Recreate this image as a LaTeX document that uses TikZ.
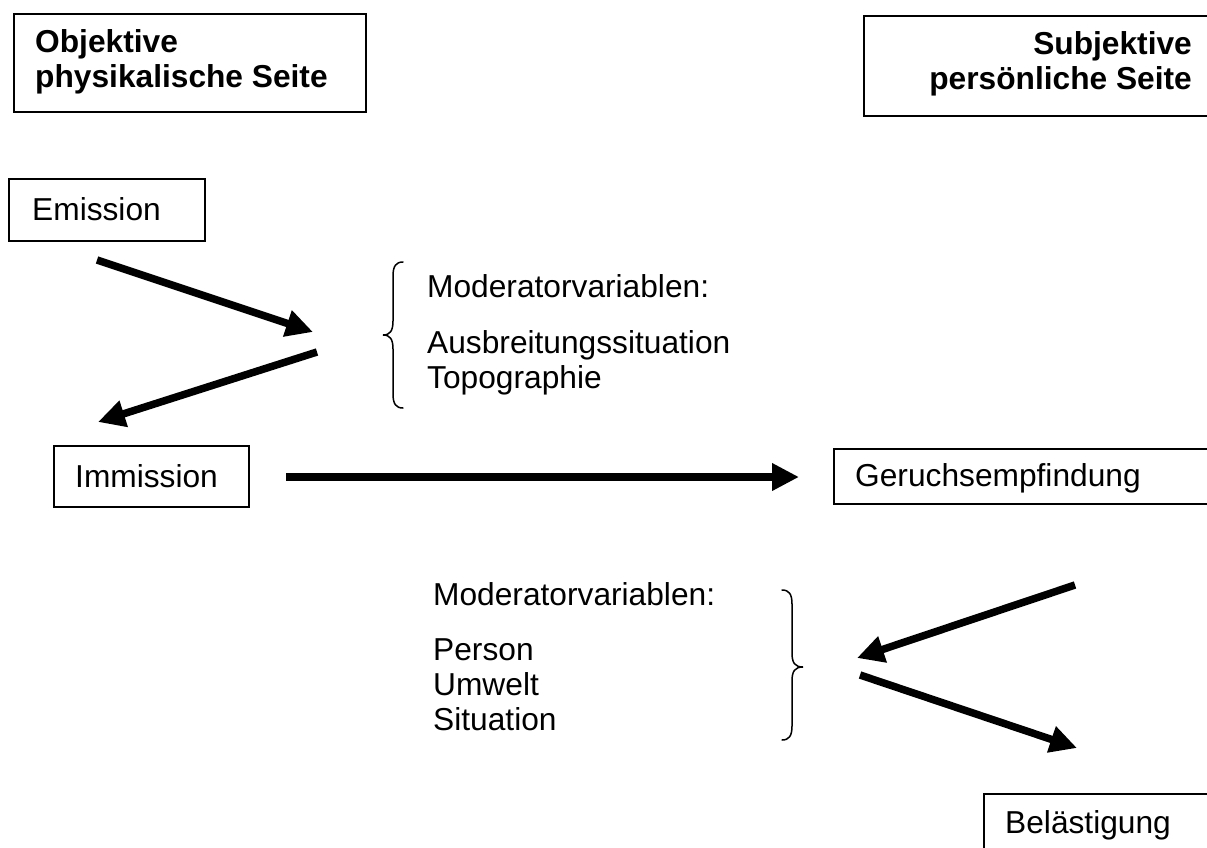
\documentclass[tikz,border=0pt]{standalone}
\usepackage{fontspec}
\setmainfont{Liberation Sans}
\usetikzlibrary{arrows.meta}
\begin{document}
\begin{tikzpicture}[x=1pt,y=-1pt,
  txt/.style={inner sep=0pt, font=\fontsize{31.7}{36.5}\selectfont},
  btxt/.style={inner sep=0pt, font=\fontsize{31.7}{36.5}\selectfont\bfseries},
  frame/.style={draw, line width=1.6pt, inner sep=0pt, anchor=north west},
  bigarrow/.style={line width=7.5pt, -{Triangle[length=27pt,width=26pt]}},
  brace/.style={line width=1.5pt, line cap=round}]
\clip (0,0) rectangle (1207,848);
\fill[white] (0,0) rectangle (1207,848);

% boxes
\node[frame, minimum width=352pt, minimum height=98pt] (objbox) at (13,13) {};
\node[frame, minimum width=400pt, minimum height=100pt] (subbox) at (863,15) {};
\node[frame, minimum width=196pt, minimum height=62pt] (emibox) at (8,178) {};
\node[frame, minimum width=195pt, minimum height=61pt] (immbox) at (53,445) {};
\node[frame, minimum width=420pt, minimum height=55pt] (gerbox) at (833,448) {};
\node[frame, minimum width=300pt, minimum height=100pt] (belbox) at (983,793) {};

% box texts
\node[btxt, anchor=base west] (obj1) at (35,53) {Objektive};
\node[btxt, anchor=base west] (obj2) at (35,88) {physikalische Seite};
\node[btxt, anchor=base east] (sub1) at (1192,55) {Subjektive};
\node[btxt, anchor=base east] (sub2) at (1192,90) {persönliche Seite};
\node[txt, anchor=base west] (emt) at (32,220) {Emission};
\node[txt, anchor=base west] (imt) at (75,487) {Immission};
\node[txt, anchor=base west] (get) at (855,486) {Geruchsempfindung};
\node[txt, anchor=base west] (bet) at (1005,833) {Belästigung};

% moderator texts 1
\node[txt, anchor=base west] (m1a) at (427,297) {Moderatorvariablen:};
\node[txt, anchor=base west] (m1b) at (427,353) {Ausbreitungssituation};
\node[txt, anchor=base west] (m1c) at (427,388) {Topographie};

% moderator texts 2
\node[txt, anchor=base west] (m2a) at (433,605) {Moderatorvariablen:};
\node[txt, anchor=base west] (m2b) at (433,660) {Person};
\node[txt, anchor=base west] (m2c) at (433,695) {Umwelt};
\node[txt, anchor=base west] (m2d) at (433,730) {Situation};

% braces
\draw[brace] (403,262) .. controls (396,262) and (393,266) .. (393,276) -- (393,321)
  .. controls (393,331) and (390,335) .. (383,335)
  .. controls (390,335) and (393,339) .. (393,349) -- (393,394)
  .. controls (393,404) and (396,408) .. (403,408);
\draw[brace] (782,590) .. controls (789,590) and (792,594) .. (792,604) -- (792,653)
  .. controls (792,663) and (795,667) .. (803,667)
  .. controls (795,667) and (792,671) .. (792,681) -- (792,726)
  .. controls (792,736) and (789,740) .. (782,740);

% arrows
\coordinate (a1s) at (97,260);   \coordinate (a1e) at (313,332);
\coordinate (a2s) at (317,352);  \coordinate (a2e) at (98,422);
\coordinate (a3s) at (286,477);  \coordinate (a3e) at (799,477);
\coordinate (a4s) at (1075,585); \coordinate (a4e) at (857,658);
\coordinate (a5s) at (860,675);  \coordinate (a5e) at (1077,748);
\draw[bigarrow] (a1s) -- (a1e);
\draw[bigarrow] (a2s) -- (a2e);
\draw[bigarrow] (a3s) -- (a3e);
\draw[bigarrow] (a4s) -- (a4e);
\draw[bigarrow] (a5s) -- (a5e);
\end{tikzpicture}
\end{document}
